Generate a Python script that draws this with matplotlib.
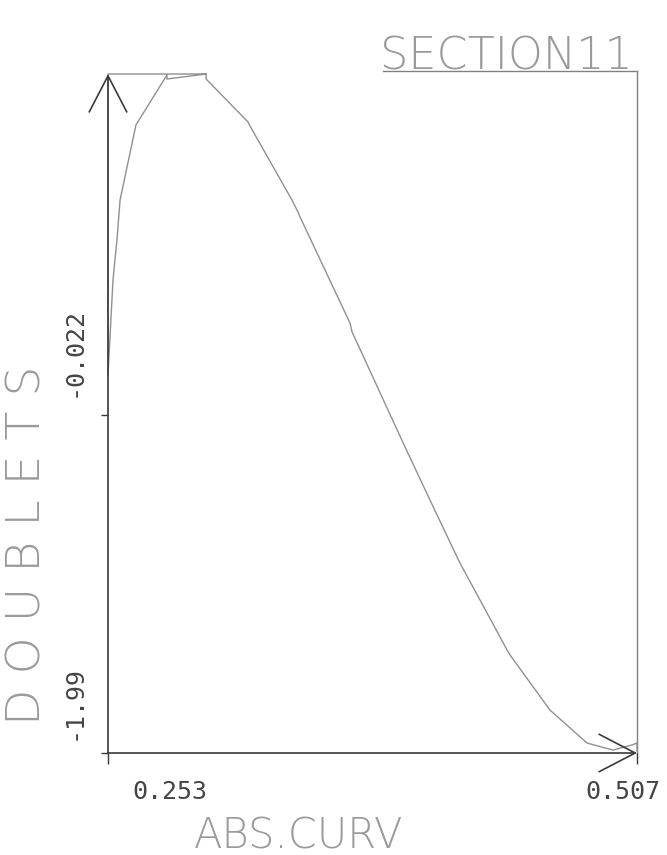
import matplotlib
matplotlib.use("Agg")
import matplotlib.pyplot as plt

# ---------------- data ----------------
abs_curv = [0.3001, 0.2530, 0.2530, 0.2554, 0.2573, 0.2588, 0.2664, 0.2813,
            0.2813, 0.3001, 0.3001, 0.3202, 0.3212, 0.3413, 0.3442, 0.3452,
            0.3692, 0.3702, 0.3956, 0.4076, 0.4206, 0.4220, 0.4446, 0.4460,
            0.4652, 0.4830, 0.4955, 0.5046, 0.5070, 0.5070]
doublets = [1.963, 1.963, 0.211, 0.764, 0.997, 1.230, 1.666, 1.957,
            1.934, 1.963, 1.934, 1.684, 1.660, 1.230, 1.160, 1.131,
            0.513, 0.461, -0.208, -0.517, -0.849, -0.884, -1.390, -1.419,
            -1.740, -1.932, -1.973, -1.943, -1.932, -1.978]

x_min, x_max = 0.253, 0.507
y_min, y_max = -1.99, 1.963
x_tick_labels = ["0.253", "0.507"]
y_tick_values = [-1.99, -0.022]
y_tick_labels = ["-1.99", "-0.022"]
title = "SECTION11"
x_label = "ABS.CURV"
y_label = "D O U B L E T S"

W, H = 667, 855

fig = plt.figure(figsize=(W / 100, H / 100), dpi=100)
fig.patch.set_facecolor("white")
ax = fig.add_axes([108 / W, (H - 753) / H, (637 - 108) / W, (753 - 74) / H])
ax.set_xlim(x_min, x_max)
ax.set_ylim(y_min, y_max)
ax.axis("off")

axis_col = "#3a3a3a"
curve_col = "#909090"
text_col = "#9a9a9a"

# data curve
ax.plot(abs_curv, doublets, color=curve_col, lw=1.0, clip_on=False, zorder=3)

# axes with arrow heads
arrow = dict(arrowstyle="->,head_length=2.6,head_width=1.35", lw=1.2,
             color=axis_col, shrinkA=0, shrinkB=0)
ax.annotate("", xy=(x_max, y_min), xytext=(x_min, y_min), arrowprops=arrow,
            annotation_clip=False)
ax.annotate("", xy=(x_min, y_max), xytext=(x_min, y_min), arrowprops=arrow,
            annotation_clip=False)

# frame line on right and title underline
ax.plot([x_max, x_max], [y_min, y_max + 0.02], color="#808080", lw=1.0, clip_on=False)
ax.plot([0.385, x_max], [y_max + 0.02, y_max + 0.02], color="#808080", lw=1.0,
        clip_on=False)

# ticks
ax.plot([x_min, x_max], [y_min, y_min], ls="", marker=3, ms=8, mew=1.0,
        color=axis_col, clip_on=False)
ax.plot([x_min, x_min], y_tick_values, ls="", marker=0, ms=5, mew=1.0,
        color=axis_col, clip_on=False)

# tick labels
tick_font = dict(family="DejaVu Sans Mono", fontsize=18, color="#444444")
fig.text(170 / W, 1 - 792 / H, x_tick_labels[0], ha="center", va="center", **tick_font)
fig.text(623 / W, 1 - 792 / H, x_tick_labels[1], ha="center", va="center", **tick_font)
fig.text(74 / W, 1 - 702 / H, y_tick_labels[0], ha="center", va="center",
         rotation=90, **tick_font)
fig.text(74 / W, 1 - 352 / H, y_tick_labels[1], ha="center", va="center",
         rotation=90, **tick_font)

# axis titles
lab_font = dict(family="DejaVu Sans", color=text_col, fontweight="light")
fig.text(299 / W, 1 - 836 / H, x_label, ha="center", va="center", fontsize=30,
         **lab_font)
fig.text(28 / W, 1 - 545 / H, y_label, ha="center", va="center", rotation=90,
         fontsize=34, **lab_font)

# title
fig.text(506 / W, 1 - 70 / H, title, ha="center", va="baseline",
         family="DejaVu Sans", fontweight="light", fontsize=32, color=text_col)

fig.savefig("out.png", dpi=100, facecolor="white")
